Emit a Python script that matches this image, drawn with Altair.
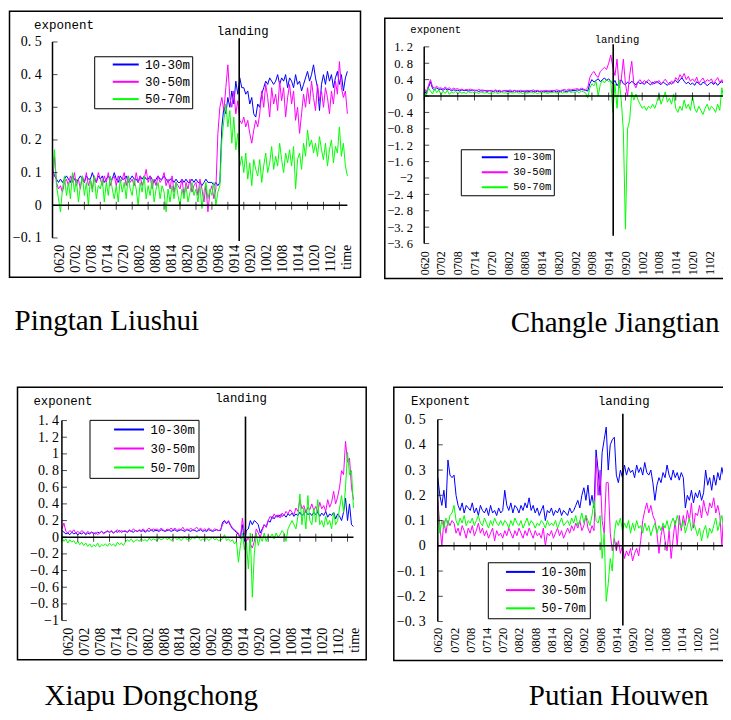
import numpy as np
import pandas as pd
import altair as alt

BANDS = ["10-30m", "30-50m", "50-70m"]
COLORS = ["#0000ff", "#ff00ff", "#00ff00"]
XLABELS = ["0620", "0702", "0708", "0714", "0720", "0802", "0808", "0814", "0820",
           "0902", "0908", "0914", "0920", "1002", "1008", "1014", "1020", "1102", "time"]
TICK_IDX = list(range(0, 73, 4))

YT1 = [-0.1, 0, 0.1, 0.2, 0.3, 0.4, 0.5]
YT2 = [-3.6, -3.2, -2.8, -2.4, -2, -1.6, -1.2, -0.8, -0.4, 0, 0.4, 0.8, 1.2]
YT3 = [-1, -0.8, -0.6, -0.4, -0.2, 0, 0.2, 0.4, 0.6, 0.8, 1, 1.2, 1.4]
YT4 = [-0.3, -0.2, -0.1, 0, 0.1, 0.2, 0.3, 0.4, 0.5]

# values in hundredths, two readings per tick-quarter step (index step 0.5)
P1_BLUE = [11, 9, 8, 7, 8, 7, 8, 9, 8, 7, 9, 8, 7, 8, 9, 8,
           7, 9, 8, 8, 10, 8, 7, 9, 8, 9, 7, 8, 9, 8, 8, 10,
           8, 7, 9, 8, 8, 9, 7, 8, 9, 8, 8, 7, 9, 8, 9, 8,
           8, 9, 8, 7, 8, 9, 8, 8, 9, 8, 7, 8, 8, 7, 8, 7,
           7, 8, 7, 8, 7, 7, 8, 7, 8, 7, 7, 6, 7, 8, 7, 7,
           7, 6, 7, 6, 7, 24, 30, 28, 33, 30, 35, 31, 38, 34, 39, 36,
           36, 34, 35, 31, 33, 28, 27, 31, 30, 34, 36, 38, 37, 39, 38, 37,
           38, 40, 37, 39, 38, 40, 36, 39, 38, 36, 40, 37, 38, 35, 37, 39,
           41, 38, 40, 43, 39, 36, 29, 37, 40, 37, 41, 38, 40, 36, 39, 41,
           37, 40, 35, 39, 41]
P1_MAG = [6, 15, 7, 5, 6, 4, 7, 8, 6, 9, 7, 10, 6, 8, 5, 9,
          7, 10, 6, 8, 5, 9, 7, 10, 8, 6, 9, 7, 10, 6, 8, 9,
          6, 9, 7, 8, 10, 6, 9, 7, 8, 6, 10, 7, 9, 6, 8, 11,
          7, 9, 5, 8, 6, 9, 7, 8, 10, 6, 8, 5, 9, 4, 7, 6,
          5, 8, 3, 7, 5, 8, 4, 6, 7, 3, 8, 5, 1, 6, -2, 4,
          6, 2, 5, 22, 30, 33, 29, 36, 43, 33, 30, 35, 28, 32, 26, 25,
          27, 24, 26, 22, 19, 23, 26, 24, 28, 35, 30, 37, 33, 27, 36, 31,
          34, 29, 38, 32, 36, 27, 33, 37, 31, 35, 26, 30, 22, 28, 34, 30,
          36, 31, 38, 33, 29, 37, 32, 35, 30, 36, 33, 28, 35, 31, 38, 34,
          44, 36, 33, 35, 28]
P1_GRN = [10, 17, 6, 2, -2, 5, 9, 3, 7, 2, 10, 4, 8, 1, 6, 9,
          3, 7, 0, 8, 4, 9, 2, 6, 5, 8, 1, 7, 3, 9, 5, 2,
          6, 1, 8, 4, 7, 2, 9, 5, 3, 8, 5, 0, 7, 4, 9, 2,
          6, 3, 8, 1, 5, 7, 2, 6, 4, -2, 5, 1, 6, 2, 7, 3,
          0, 5, 2, 6, 1, 4, 7, 3, 5, 1, 6, -1, 4, 7, 2, 5,
          3, 7, 0, 4, 6, 20, 26, 31, 24, 29, 19, 27, 17, 22, 12, 15,
          10, 16, 8, 13, 6, 14, 11, 9, 14, 7, 12, 16, 10, 13, 18, 11,
          15, 12, 19, 14, 10, 16, 13, 17, 12, 18, 5, 14, 16, 11, 19, 15,
          23, 18, 20, 16, 19, 15, 21, 17, 14, 19, 12, 17, 20, 13, 18, 16,
          24, 15, 19, 12, 9]

P2_BLUE = [15, 5, 20, 35, 18, 15, 20, 16, 17, 14, 18, 15, 16, 13, 15, 14,
           14, 12, 15, 13, 14, 12, 13, 15, 12, 14, 11, 13, 12, 14, 11, 13,
           12, 11, 13, 10, 12, 11, 13, 12, 11, 12, 10, 13, 11, 12, 10, 11,
           12, 10, 11, 13, 11, 10, 12, 11, 10, 12, 11, 10, 12, 11, 13, 10,
           12, 11, 13, 12, 11, 13, 12, 14, 13, 15, 14, 16, 15, 14, 12, 30,
           40, 34, 38, 42, 35, 40, 44, 38, 42, 36, 30, 38, 25, 33, 40, 30,
           28, 34, 30, 36, 32, 27, 35, 30, 33, 28, 35, 31, 27, 34, 30, 36,
           31, 28, 34, 30, 26, 33, 29, 35, 38, 32, 40, 44, 36, 30, 34, 28,
           32, 26, 35, 30, 27, 34, 31, 25, 30, 34, 28, 33, 26, 32, 35, 29,
           33]
P2_MAG = [20, 10, 25, 40, 22, 20, 24, 19, 20, 17, 22, 18, 20, 16, 19, 17,
          18, 15, 17, 14, 16, 15, 17, 14, 15, 13, 16, 14, 15, 12, 14, 13,
          14, 12, 15, 13, 14, 11, 13, 14, 13, 15, 12, 14, 13, 12, 14, 13,
          12, 14, 13, 12, 15, 13, 14, 12, 13, 12, 14, 13, 12, 14, 13, 15,
          14, 13, 15, 16, 14, 17, 15, 16, 17, 18, 16, 19, 17, 15, 20, 45,
          55, 60, 50, 45, 60, 65, 70, 65, 80, 100, 70, 50, 90, 20, 40, 90,
          30, 0, 50, 85, 30, 20, 35, 40, 30, 38, 33, 40, 35, 28, 36, 32,
          38, 30, 35, 41, 33, 28, 37, 31, 45, 38, 52, 44, 55, 40, 48, 36,
          42, 35, 46, 30, 38, 44, 33, 40, 36, 42, 30, 38, 45, 33, 40, 28,
          34]
P2_GRN = [10, 0, 20, 12, 5, 18, 8, 15, 3, 12, 6, 14, 4, 10, 7, 12,
          5, 10, 7, 9, 6, 11, 8, 10, 7, 9, 6, 10, 8, 7, 9, 6,
          8, 7, 9, 6, 8, 10, 7, 8, 6, 9, 7, 8, 10, 7, 8, 6,
          9, 7, 8, 10, 7, 9, 6, 8, 7, 9, 8, 6, 9, 8, 10, 7,
          8, 10, 7, 9, 8, 11, 9, 10, 9, 11, 8, 12, 10, 8, -5, 20,
          30, 25, 35, 0, 28, 38, 32, 40, 35, 38, -40, 30, -30, 40, -10, -85,
          -325, -80, -60, 10, -10, 5, -10, -20, -30, -25, -35, -25, -30, -20, -30, -15,
          5, -20, -5, 10, -15, -5, -20, 5, -30, -40, -25, -35, -10, -30, -20, -35,
          0, -30, -40, -25, -35, -45, -30, -20, -35, -25, -30, -40, -20, -35, 20, -10,
          5]

P3_BLUE = [8, 6, 4, 5, 3, 6, 4, 5, 3, 5, 4, 6, 3, 5, 4, 6,
           5, 4, 6, 5, 7, 5, 6, 7, 6, 7, 5, 7, 6, 8, 6, 7,
           7, 6, 8, 7, 6, 8, 7, 8, 7, 8, 6, 8, 7, 9, 7, 8,
           8, 7, 9, 8, 7, 8, 9, 7, 8, 9, 7, 8, 9, 8, 7, 9,
           8, 7, 9, 8, 7, 8, 9, 7, 8, 7, 9, 8, 7, 8, 9, 8,
           8, 18, 20, 16, 19, 14, 10, 8, 6, 3, 0, 15, -5, 8, 10, 20,
           15, 20, 18, 15, 5, 10, 15, 12, 20, 18, 25, 22, 26, 24, 27, 25,
           27, 24, 28, 26, 29, 25, 28, 26, 30, 26, 28, 31, 27, 29, 26, 30,
           27, 30, 25, 29, 26, 31, 24, 28, 26, 30, 22, 28, 25, 20, 30, 47,
           20, 40, 15, 13]
P3_MAG = [10, 17, 7, 5, 8, 6, 9, 5, 7, 5, 8, 6, 4, 7, 5, 6,
          4, 6, 3, 5, 7, 4, 6, 8, 6, 8, 5, 7, 9, 6, 8, 7,
          8, 6, 9, 7, 10, 8, 7, 9, 8, 10, 7, 9, 11, 8, 10, 9,
          10, 8, 11, 9, 7, 10, 8, 11, 9, 11, 8, 10, 9, 12, 8, 10,
          9, 11, 8, 10, 12, 9, 11, 8, 10, 8, 11, 9, 8, 10, 9, 8,
          9, 15, 19, 17, 20, 15, 11, 9, 7, 5, -2, 23, 5, -5, 0, -8,
          -13, -5, 10, 5, 0, 8, 15, 12, 20, 25, 22, 28, 24, 27, 23, 29,
          26, 31, 28, 33, 30, 27, 35, 31, 45, 34, 38, 30, 36, 33, 40, 32,
          37, 30, 42, 34, 38, 31, 45, 36, 42, 55, 40, 48, 60, 80, 75, 115,
          90, 95, 60, 45]
P3_GRN = [0, -5, -2, -7, -3, -6, -4, -8, -5, -9, -6, -10, -7, -11, -8, -12,
          -9, -11, -7, -12, -9, -10, -8, -11, -7, -10, -8, -11, -6, -9, -7, -10,
          -6, -3, -5, -2, -6, -4, -3, -5, -2, -4, -3, -5, -1, -4, -2, -3,
          -4, -1, -3, -2, 0, -3, -1, -4, -2, 0, -3, -1, -4, -2, 1, -3,
          -1, -3, 0, -2, 2, -1, -4, -2, -3, -1, -4, -2, 0, -3, -2, -4,
          -3, -2, 3, -4, -2, -5, -3, -8, -5, -30, -10, 5, -15, -5, -38, 5,
          -72, -20, 5, -10, 0, -5, 5, -5, 2, 0, 4, -2, 5, 0, 3, 8,
          5, -5, 10, 15, 20, 15, 10, 25, 52, 15, 35, 10, 50, 20, 15, 35,
          18, 45, 15, 20, 12, 25, 15, 20, 10, 30, 15, 20, 35, 50, 30, 60,
          102, 75, 80, 35]

P4_BLUE = [27, 20, 16, 22, 15, 34, 28, 27, 28, 20, 16, 14, 17, 13, 16, 15,
           14, 17, 13, 15, 12, 16, 14, 13, 15, 12, 16, 13, 14, 12, 15, 13,
           14, 22, 16, 14, 17, 13, 16, 15, 13, 16, 14, 17, 15, 19, 14, 16,
           13, 15, 12, 14, 16, 10, 14, 13, 15, 12, 14, 13, 15, 12, 14, 13,
           12, 15, 13, 14, 16, 18, 15, 20, 23, 18, 24, 16, 20, 15, 38, 30,
           20, 37, 42, 47, 30, 40, 42, 43, 28, 25, 30, 27, 32, 28, 31, 29,
           30, 27, 32, 29, 31, 28, 33, 29, 28, 30, 25, 18, 24, 27, 25, 29,
           27, 32, 28, 26, 30, 27, 29, 26, 29, 27, 15, 20, 18, 22, 17, 21,
           19, 22, 18, 21, 30, 24, 27, 22, 28, 24, 29, 26, 31, 27, 34, 30,
           22]
P4_MAG = [18, 8, 0, 10, 5, 10, 8, 10, 9, 5, 7, 4, 8, 6, 3, 7,
          5, 8, 4, 6, 9, 5, 7, 4, 6, 3, 5, 7, 2, 6, 4, 5,
          3, 6, 4, 7, 5, 3, 6, 4, 7, 5, 3, 6, 4, 7, 5, 3,
          6, 4, 5, 3, 7, 0, 5, 4, 6, 3, 5, 7, 4, 6, 3, 5,
          7, 5, 8, 6, 9, 7, 10, 6, 8, 12, 7, 5, 8, 6, 35, 20,
          30, 10, 5, 25, 25, 5, -2, 3, -2, 2, -3, 0, -5, -2, -4, -1,
          -6, -3, -1, -4, 2, 10, 14, 17, 13, 16, 12, 10, 5, -3, 4, 8,
          2, -2, 6, -5, 3, 10, 0, 12, 6, 12, 8, 14, 10, 17, 7, 13,
          12, 16, 11, 18, 14, 12, 17, 15, 19, 13, 16, 12, 0, 15, 10, 17,
          12]
P4_GRN = [15, 5, 10, 7, 11, 8, 12, 13, 16, 10, 8, 11, 9, 12, 8, 10,
          9, 11, 8, 10, 12, 9, 8, 11, 9, 7, 10, 8, 11, 9, 8, 10,
          8, 10, 9, 7, 10, 8, 11, 9, 8, 10, 7, 9, 11, 8, 10, 9,
          7, 9, 8, 10, 9, 7, 10, 8, 9, 8, 10, 7, 9, 11, 8, 9,
          10, 8, 11, 9, 12, 8, 10, 13, 9, 12, 10, 8, 12, 18, 10, 9,
          12, -5, 5, -22, -15, -5, -10, 5, 10, 8, 11, 6, 9, 7, 10, 5,
          9, 6, 10, 7, 8, 5, 9, 6, 8, 4, 7, 9, 5, 8, 6, 9,
          7, 10, 6, 9, 11, 8, 12, 9, 7, 10, 5, 8, 11, 6, 9, 7,
          4, 7, 2, 6, 8, 3, 7, 5, 8, 11, 6, 9, 12, 7, 10, 8,
          11]

LANDING = [46.85, 45.08, 46.28, 45.6]

NB = "\u00a0"

CFG = [
    dict(cap="Pingtan Liushui", W=351, H=266, ax=43, ppi=3.985, ya=(0.5, 30.7), yb=(-0.1, 226.7),
         yt=YT1, yfs=14, ylp=11.3, xfs=14, xoff=-33, xbase="top", ytitle="exponent", tx=-19, ty=17,
         tfs=12.5, ltop=27, lbot=229.7, lty=24, ldx=3.5, lfs=12.3,
         lgx=84.7, lgy=45, lpad=2, lhalf=13, lso=23.3, llo=13, lrp=4.3, lgfs=12.5, lsp=NB,
         cdx=5, coff=53),
    dict(cap="Changle Jiangtian", W=350.7, H=260.3, ax=39.4, ppi=4.1925, ya=(1.2, 28.6), yb=(-3.6, 225.3),
         yt=YT2, yfs=12.5, ylp=11.7, xfs=12, xoff=-27.7, xbase="middle", ytitle="exponent", tx=-14.4, ty=13.8,
         tfs=10.6, ltop=26, lbot=217.6, lty=24.3, ldx=3.8, lfs=10.6,
         lgx=76, lgy=131, lpad=2, lhalf=13, lso=26, llo=12.4, lrp=3, lgfs=10.6, lsp="",
         cdx=126, coff=53),
    dict(cap="Xiapu Dongchong", W=348.7, H=272.6, ax=44.4, ppi=3.967, ya=(1.4, 33.3), yb=(-1, 233.3),
         yt=YT3, yfs=14, ylp=3.4, xfs=14, xoff=-32.6, xbase="top", ytitle="exponent", tx=-29, ty=17.3,
         tfs=12.3, ltop=29.3, lbot=223.3, lty=14.8, ldx=-4.5, lfs=12.3,
         lgx=72, lgy=32.6, lpad=3.5, lhalf=15, lso=29.9, llo=15.3, lrp=6, lgfs=12.3, lsp="",
         cdx=27, coff=45.5),
    dict(cap="Putian Houwen", W=343.7, H=273.3, ax=44, ppi=4.058, ya=(0.5, 32.3), yb=(-0.3, 234.3),
         yt=YT4, yfs=14, ylp=12.6, xfs=12.5, xoff=-33.3, xbase="middle", ytitle="Exponent", tx=-27.3, ty=17.3,
         tfs=12.3, ltop=26.6, lbot=238.3, lty=17.3, ldx=0.9, lfs=12.3,
         lgx=94, lgy=175, lpad=3.5, lhalf=14.5, lso=23, llo=14.9, lrp=5.2, lgfs=12.3, lsp=NB,
         cdx=135, coff=44.8),
]

SERIES = [
    (P1_BLUE, P1_MAG, P1_GRN),
    (P2_BLUE, P2_MAG, P2_GRN),
    (P3_BLUE, P3_MAG, P3_GRN),
    (P4_BLUE, P4_MAG, P4_GRN),
]

LABEL_EXPR = "[" + ",".join("'%s'" % s for s in XLABELS) + "][round(datum.value/4)]"


def make_panel(c, series, landing):
    frames = [pd.DataFrame({"t": np.arange(len(s)) * 0.5, "v": np.array(s) / 100.0, "band": b})
              for s, b in zip(series, BANDS)]
    df = pd.concat(frames, ignore_index=True)
    t_end = float(df["t"].max())

    x0 = -c["ax"] / c["ppi"]
    x1 = (c["W"] - c["ax"]) / c["ppi"]
    (va, pa), (vb, pb) = c["ya"], c["yb"]
    k = (pb - pa) / (va - vb)
    ytop = va + pa / k
    ybot = vb - (c["H"] - pb) / k
    xs = alt.Scale(domain=[x0, x1], nice=False, zero=False)
    ys = alt.Scale(domain=[ybot, ytop], nice=False, zero=False)

    xaxis = alt.Axis(values=TICK_IDX, labelExpr=LABEL_EXPR, labelAngle=270, labelAlign="right",
                     labelBaseline=c["xbase"], labelFont="Liberation Serif", labelFontSize=c["xfs"],
                     labelColor="black", labelPadding=0, ticks=False, tickSize=0, domain=False,
                     grid=False, offset=c["xoff"], title=None, labelOverlap=False, labelFlush=False)
    yaxis = alt.Axis(values=c["yt"], labelExpr="replace(format(datum.value,'~g'),'.','. ')",
                     orient="left", offset=-c["ax"], ticks=False, tickSize=0, domain=False, grid=False,
                     labelPadding=c["ylp"], labelFont="Liberation Serif", labelFontSize=c["yfs"],
                     labelColor="black", labelOverlap=False, labelFlush=False,
                     title=c["ytitle"], titleAngle=0, titleAlign="left", titleBaseline="alphabetic",
                     titleX=c["tx"], titleY=c["ty"], titleFont="Liberation Mono",
                     titleFontSize=c["tfs"], titleFontWeight="normal", titleColor="black")
    h = c["lhalf"] / 5.0
    legend = alt.Legend(orient="none", legendX=c["lgx"], legendY=c["lgy"], title=None,
                        strokeColor="black", fillColor="white", padding=c["lpad"],
                        symbolType="M-%.3f,0L%.3f,0" % (h, h), symbolSize=100, symbolStrokeWidth=2,
                        symbolOffset=c["lso"], labelOffset=c["llo"], rowPadding=c["lrp"],
                        labelFont="Liberation Mono", labelFontSize=c["lgfs"], labelColor="black",
                        labelExpr="datum.label + '%s'" % c["lsp"])

    X = lambda f: alt.X(f, scale=xs, axis=xaxis)
    Y = lambda f: alt.Y(f, scale=ys, axis=yaxis)

    lines = alt.Chart(df).mark_line(strokeWidth=1).encode(
        x=X("t:Q"), y=Y("v:Q"),
        color=alt.Color("band:N", scale=alt.Scale(domain=BANDS, range=COLORS), legend=legend),
    )
    yline = alt.Chart(pd.DataFrame({"t": [0.0], "v": [min(c["yt"])], "b": [max(c["yt"])]})).mark_rule(
        color="black", strokeWidth=1.5).encode(x=X("t:Q"), y=Y("v:Q"), y2="b:Q")
    zline = alt.Chart(pd.DataFrame({"t": [0.0], "t2": [t_end], "v": [0.0]})).mark_rule(
        color="black", strokeWidth=1.5).encode(x=X("t:Q"), x2="t2:Q", y=Y("v:Q"))
    xticks = alt.Chart(pd.DataFrame({"t": [float(v) for v in TICK_IDX], "v": 0.0})).mark_tick(
        orient="vertical", size=8, thickness=1, color="black", yOffset=0.5).encode(
        x=X("t:Q"), y=Y("v:Q"))
    yticks = alt.Chart(pd.DataFrame({"t": 0.0, "v": c["yt"]})).mark_tick(
        orient="horizontal", size=5, thickness=1, color="black", xOffset=2.5).encode(
        x=X("t:Q"), y=Y("v:Q"))
    ldf = pd.DataFrame({"t": [landing], "txt": ["landing"]})
    lrule = alt.Chart(ldf).mark_rule(color="black", strokeWidth=1.6).encode(
        x=X("t:Q"), y=alt.value(c["ltop"]), y2=alt.value(c["lbot"]))
    ltext = alt.Chart(ldf).mark_text(font="Liberation Mono", fontSize=c["lfs"], color="black",
                                     align="center", baseline="alphabetic", dx=c["ldx"]).encode(
        x=X("t:Q"), y=alt.value(c["lty"]), text="txt:N")

    return alt.layer(lines, yline, zline, xticks, yticks, lrule, ltext).properties(
        width=c["W"], height=c["H"],
        view=alt.ViewBackground(stroke="black", strokeWidth=1.5),
        title=alt.TitleParams(c["cap"], orient="bottom", anchor="start", frame="group",
                              offset=c["coff"], dx=c["cdx"], baseline="alphabetic",
                              font="Liberation Serif", fontSize=29, fontWeight="normal", color="black"),
    )


def spacer(w, h):
    return alt.Chart(pd.DataFrame({"s": [0]})).mark_point(opacity=0, size=0).encode(
        x=alt.X("s:Q", axis=None), y=alt.Y("s:Q", axis=None)).properties(width=w, height=h)


p1, p2, p3, p4 = [make_panel(c, s, l) for c, s, l in zip(CFG, SERIES, LANDING)]

col2 = alt.vconcat(spacer(1, 5.7), p2, spacing=0).resolve_scale(color="independent")
row1 = alt.hconcat(p1, col2, spacing=22.3).resolve_scale(color="independent")
cell3 = alt.hconcat(spacer(6.3, 1), p3, spacing=0).resolve_scale(color="independent")
row2 = alt.hconcat(cell3, p4, spacing=25.3).resolve_scale(color="independent")

# the page shows 715 x 704 px of drawing without scrolling (8 px body margin)
chart = alt.vconcat(row1, row2, spacing=47).resolve_scale(
    color="independent").properties(
    autosize=alt.AutoSizeParams(type="none"),
    padding={"left": 1.5, "top": 3.25, "right": 713.5, "bottom": 700.75},
    background="white",
).configure_view(strokeWidth=0)

chart.save("out.html", embed_options={"renderer": "svg", "actions": False})
